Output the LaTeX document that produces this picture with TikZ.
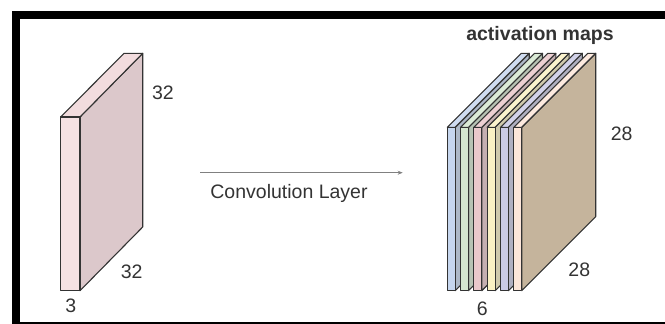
\documentclass[tikz,border=0pt]{standalone}
\usepackage{fontspec}
\setmainfont{Liberation Sans}
\usetikzlibrary{arrows.meta}
\definecolor{inkgray}{HTML}{333333}
\definecolor{volfront}{HTML}{F5E1E3}
\definecolor{voltop}{HTML}{F2DCDE}
\definecolor{volside}{HTML}{DCC8CB}
\definecolor{mapback}{HTML}{C5B49C}
\definecolor{mapA}{HTML}{C6D6EE}
\definecolor{mapB}{HTML}{D5E7D0}
\definecolor{mapC}{HTML}{EAC8CB}
\definecolor{mapD}{HTML}{FAF1C4}
\definecolor{mapE}{HTML}{CACAE5}
\definecolor{mapF}{HTML}{FDE6D9}
\tikzset{
    every node/.style={text=inkgray, font=\fontsize{19.5}{22}\selectfont},
    dimlabel/.style={anchor=base},
    face/.style={draw=inkgray, line width=1.1pt, line join=round}
}

\begin{document}
\begin{tikzpicture}[x=1pt, y=-1pt]
  \useasboundingbox (0,0) rectangle (665,324);
  % frame
  \fill[black] (12,11) rectangle (665,19);
  \fill[black] (12,11) rectangle (20,324);
  \fill[black] (12,322) rectangle (665,324);

  % input volume
  \draw[face, fill=volside] (80,117) -- (142.7,53.3) -- (142.7,227) -- (80,290.7) -- cycle;
  \draw[face, fill=voltop] (60.7,117) -- (80,117) -- (142.7,53.3) -- (124,53.3) -- cycle;
  \draw[face, fill=volfront] (60.7,117) rectangle (80,290.7);

  \node (inh) [dimlabel] at (163,99) {32};
  \node (inw) [dimlabel] at (131.7,278.7) {32};
  \node (ind) [dimlabel] at (70.7,312) {3};

  % convolution
  \coordinate (convin) at (200,172.7);
  \coordinate (convout) at (402.7,172.7);
  \draw[gray, line width=0.8pt, -{Stealth[length=5pt,width=4pt]}] (convin) -- (convout);
  \node (convlbl) [dimlabel] at (289,198.7) {Convolution Layer};

  % activation maps
  \foreach \c [count=\i from 0] in {mapA,mapB,mapC,mapD,mapE,mapF} {
    \pgfmathsetmacro{\xl}{447.3+13.3*\i}
    \pgfmathsetmacro{\xr}{\xl+7.9}
    \ifnum\i=5 \def\sidecol{mapback}\else \def\sidecol{\c!65!gray}\fi
    \draw[face, fill=\sidecol] (\xr,127.3) -- ++(74,-74) -- ++(0,163.4) -- (\xr,290.7) -- cycle;
    \draw[face, fill=\c!85!white] (\xl,127.3) -- (\xr,127.3) -- ++(74,-74) -- ++(-7.9,0) -- cycle;
    \draw[face, fill=\c] (\xl,127.3) rectangle (\xr,290.7);
  }

  \node (maptitle) [dimlabel, font=\fontsize{19.5}{22}\selectfont\bfseries] at (540,40.5) {activation maps};
  \node (maph) [dimlabel] at (621.7,140.3) {28};
  \node (mapw) [dimlabel] at (579.3,276.3) {28};
  \node (mapd) [dimlabel] at (482.3,315.3) {6};
\end{tikzpicture}
\end{document}
